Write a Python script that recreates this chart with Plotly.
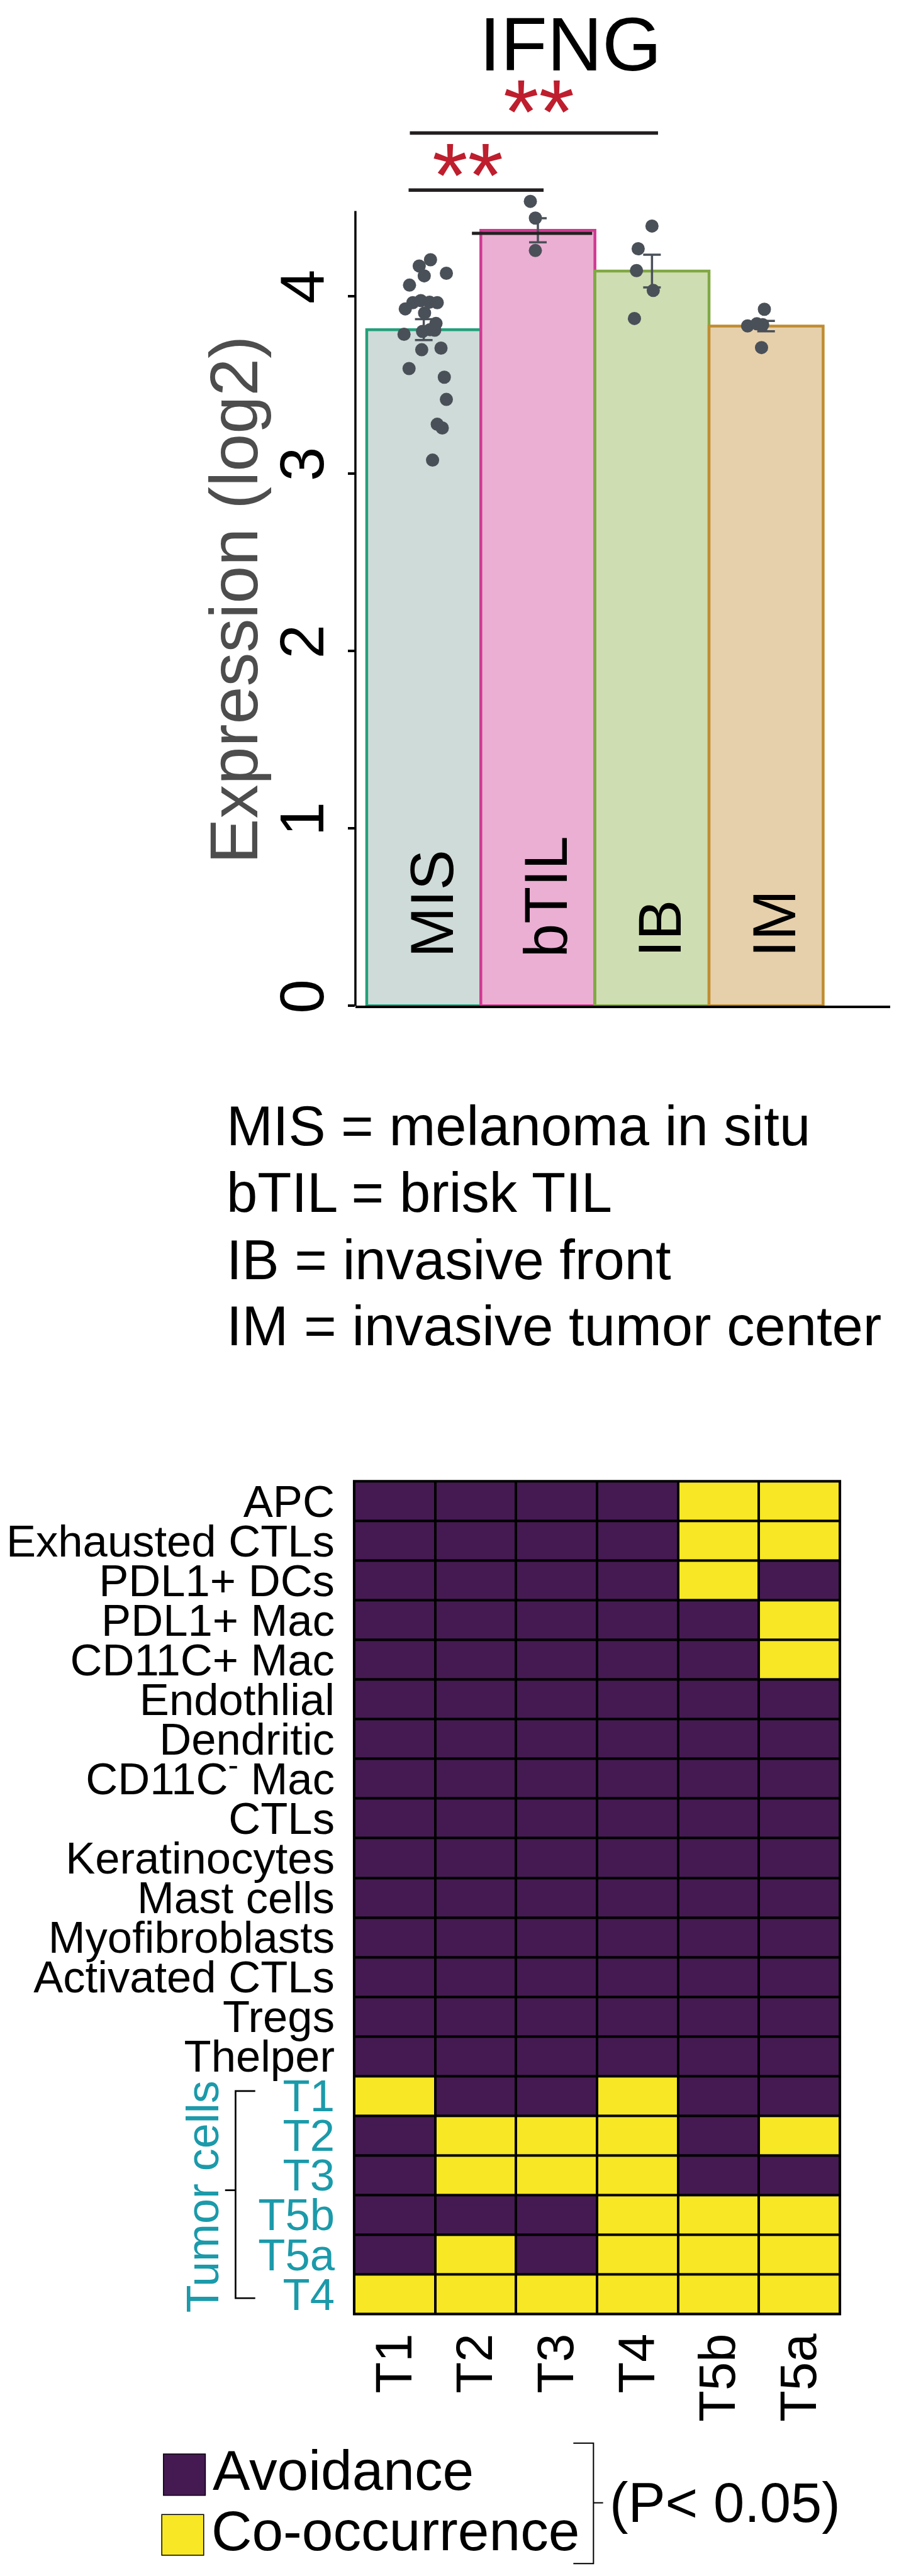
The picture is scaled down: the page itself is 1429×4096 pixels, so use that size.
import plotly.graph_objects as go

# ---------------- data ----------------
groups = ["MIS", "bTIL", "IB", "IM"]
bar_means = [3.81, 4.37, 4.14, 3.83]
bar_err = [0.059, 0.068, 0.092, 0.029]

mis_vals = [4.204, 4.169, 4.113, 4.128, 4.061, 3.962, 3.974, 3.965, 3.962, 3.927, 3.904, 3.845,
            3.784, 3.800, 3.810, 3.807, 3.697, 3.706, 3.591, 3.542, 3.417, 3.277, 3.256, 3.075]
btil_vals = [4.533, 4.439, 4.256]
ib_vals = [4.394, 4.266, 4.143, 4.031, 3.873]
im_vals = [3.925, 3.831, 3.843, 3.838, 3.709]
point_values = [mis_vals, btil_vals, ib_vals, im_vals]

# horizontal jitter of the dots (category units)
mis_jit = [0.059, -0.040, 0.004, 0.198, -0.125, -0.096, -0.026, 0.051, 0.118, -0.162, 0.007, 0.107,
           -0.173, -0.011, 0.055, 0.096, -0.018, 0.151, -0.129, 0.180, 0.198, 0.118, 0.162, 0.077]
btil_jit = [-0.066, -0.022, -0.022]
ib_jit = [0.0, -0.121, -0.136, 0.011, -0.154]
im_jit = [-0.015, -0.162, -0.081, -0.030, -0.040]
point_jitter = [mis_jit, btil_jit, ib_jit, im_jit]

definitions = ["MIS = melanoma in situ", "bTIL = brisk TIL", "IB = invasive front",
               "IM = invasive tumor center"]

hm_cols = ["T1", "T2", "T3", "T4", "T5b", "T5a"]
hm_rows = ["APC", "Exhausted CTLs", "PDL1+ DCs", "PDL1+ Mac", "CD11C+ Mac", "Endothlial",
           "Dendritic", "CD11C<sup>-</sup> Mac", "CTLs", "Keratinocytes", "Mast cells",
           "Myofibroblasts", "Activated CTLs", "Tregs", "Thelper",
           "T1", "T2", "T3", "T5b", "T5a", "T4"]
tumor_rows = ["T1", "T2", "T3", "T5b", "T5a", "T4"]
# 1 = co-occurrence, 0 = avoidance
hm_z = [
    [0, 0, 0, 0, 1, 1],
    [0, 0, 0, 0, 1, 1],
    [0, 0, 0, 0, 1, 0],
    [0, 0, 0, 0, 0, 1],
    [0, 0, 0, 0, 0, 1],
    [0, 0, 0, 0, 0, 0],
    [0, 0, 0, 0, 0, 0],
    [0, 0, 0, 0, 0, 0],
    [0, 0, 0, 0, 0, 0],
    [0, 0, 0, 0, 0, 0],
    [0, 0, 0, 0, 0, 0],
    [0, 0, 0, 0, 0, 0],
    [0, 0, 0, 0, 0, 0],
    [0, 0, 0, 0, 0, 0],
    [0, 0, 0, 0, 0, 0],
    [1, 0, 0, 1, 0, 0],
    [0, 1, 1, 1, 0, 1],
    [0, 1, 1, 1, 0, 0],
    [0, 0, 0, 1, 1, 1],
    [0, 1, 0, 1, 1, 1],
    [1, 1, 1, 1, 1, 1],
]
legend_labels = ["Avoidance", "Co-occurrence"]
pvalue_text = "(P< 0.05)"

# ---------------- styling ----------------
W, H = 1429, 4096
RW, RH = 2145, 6149
S = W / RW
FONT = "Liberation Sans, Arial, sans-serif"
fills = ["#CFDBD8", "#EBAFD3", "#CFDDB2", "#E6D0AB"]
edges = ["#22A07A", "#D03A92", "#80A843", "#C08C30"]
DOT = "#4A5058"
PURPLE = "#451A52"
YELLOW = "#F7E724"
TEAL = "#1B9AAA"
STAR = "#BE1E2D"


def fx(X):
    return X / RW


def fy(Y):
    return 1 - Y / RH


def fs(v):
    return v * S


# top panel geometry (reference pixels)
PX_UNIT_X = 272.25
PX_UNIT_Y = 425.75
X_LEFT, X_RIGHT = 848, 2124
Y_BOTTOM, Y_TOP = 2401, 150
xr = [-0.5 + (X_LEFT - 875) / PX_UNIT_X, 3.5 + (X_RIGHT - 1964) / PX_UNIT_X]
yr = [0, (Y_BOTTOM - Y_TOP) / PX_UNIT_Y]

fig = go.Figure()

fig.add_trace(go.Bar(
    x=list(range(len(groups))), y=bar_means, width=1,
    marker=dict(color=fills, line=dict(color=edges, width=4.5)),
    error_y=dict(type="data", array=bar_err, color=DOT, thickness=3.5, width=14),
    xaxis="x", yaxis="y", hoverinfo="skip"))

for i, (vals, jit) in enumerate(zip(point_values, point_jitter)):
    fig.add_trace(go.Scatter(
        x=[i + j for j in jit], y=vals, mode="markers",
        marker=dict(size=21, color=DOT, line=dict(width=0)),
        cliponaxis=False, xaxis="x", yaxis="y", hoverinfo="skip"))

fig.add_trace(go.Heatmap(
    z=hm_z, x=hm_cols, y=list(range(len(hm_rows))),
    colorscale=[[0, PURPLE], [0.5, PURPLE], [0.5, YELLOW], [1, YELLOW]],
    zmin=0, zmax=1, showscale=False, xgap=4, ygap=4,
    xaxis="x2", yaxis="y2", hoverinfo="skip"))

row_text = [("<span style=\"color:%s\">%s</span>" % (TEAL, r)) if i >= 15 else r
            for i, r in enumerate(hm_rows)]

shapes = []
# heatmap black grid background
shapes.append(dict(type="rect", xref="paper", yref="paper", layer="below",
                   x0=fx(845) - 2 / W, x1=fx(2004) + 2 / W,
                   y0=fy(5540) - 2 / H, y1=fy(3542) + 2 / H,
                   fillcolor="black", line=dict(width=0)))
# y axis line of the bar chart
shapes.append(dict(type="line", xref="paper", yref="y", x0=fx(848), x1=fx(848),
                   y0=-0.01, y1=(Y_BOTTOM - 494) / PX_UNIT_Y,
                   line=dict(color="black", width=3.5)))
# significance brackets
shapes.append(dict(type="line", xref="x", yref="y", x0=-0.122, x1=2.053, y0=4.918, y1=4.918,
                   line=dict(color="#231F20", width=5.5)))
shapes.append(dict(type="line", xref="x", yref="y", x0=-0.133, x1=1.050, y0=4.597, y1=4.597,
                   line=dict(color="#231F20", width=5.5)))
# mean line on bTIL
shapes.append(dict(type="line", xref="x", yref="y", x0=0.422, x1=1.476, y0=4.353, y1=4.353,
                   line=dict(color="#231F20", width=5)))
# tumor cells bracket
shapes.append(dict(type="path", xref="paper", yref="paper",
                   path="M %f %f L %f %f L %f %f L %f %f" % (fx(609), fy(5005), fx(562), fy(5005),
                                                             fx(562), fy(5502), fx(609), fy(5502)),
                   line=dict(color="black", width=2.7)))
shapes.append(dict(type="line", xref="paper", yref="paper", x0=fx(537), x1=fx(562),
                   y0=fy(5243), y1=fy(5243), line=dict(color="black", width=2.7)))
# legend keys
shapes.append(dict(type="rect", xref="paper", yref="paper", x0=fx(390), x1=fx(490),
                   y0=fy(5975), y1=fy(5876), fillcolor=PURPLE, line=dict(color="black", width=1.5)))
shapes.append(dict(type="rect", xref="paper", yref="paper", x0=fx(386), x1=fx(486),
                   y0=fy(6119), y1=fy(6021), fillcolor=YELLOW, line=dict(color="black", width=1.5)))
# legend bracket
shapes.append(dict(type="path", xref="paper", yref="paper",
                   path="M %f %f L %f %f L %f %f L %f %f" % (fx(1368), fy(5850), fx(1416), fy(5850),
                                                             fx(1416), fy(6139), fx(1368), fy(6139)),
                   line=dict(color="black", width=2)))
shapes.append(dict(type="line", xref="paper", yref="paper", x0=fx(1416), x1=fx(1439),
                   y0=fy(5993), y1=fy(5993), line=dict(color="black", width=2)))

ann = []


def A(text, x, y, size, color="black", xref="paper", yref="paper", xanchor="center",
      yanchor="middle", angle=0):
    ann.append(dict(text=text, x=x, y=y, xref=xref, yref=yref, xanchor=xanchor,
                    yanchor=yanchor, showarrow=False, textangle=angle,
                    font=dict(family=FONT, size=size, color=color)))


A("IFNG", fx(1361), fy(94), fs(182))
A("**", 1.01, 5.036, fs(218), STAR, xref="x", yref="y")
A("**", 0.385, 4.679, fs(218), STAR, xref="x", yref="y")
A("Expression (log2)", fx(558), fy(1427), fs(162), "#4D4D4D", angle=-90)
for i, g in enumerate(groups):
    A(g, i + 0.07, 0.265, fs(145), xref="x", yref="y", yanchor="bottom", angle=-90)
for k, (line, base) in enumerate(zip(definitions, [2735, 2896, 3057, 3216])):
    A(line, fx(538), fy(base - 46), fs(133), xanchor="left")
A("Tumor cells", fx(483), fy(5258), fs(108), TEAL, angle=-90)
A(legend_labels[0], fx(505), fy(5915), fs(134), xanchor="left")
A(legend_labels[1], fx(502), fy(6060), fs(134), xanchor="left")
A(pvalue_text, fx(1452), fy(5993), fs(133), xanchor="left")

fig.update_layout(
    width=W, height=H, margin=dict(l=0, r=0, t=0, b=0, pad=0),
    paper_bgcolor="white", plot_bgcolor="rgba(0,0,0,0)", showlegend=False,
    font=dict(family=FONT, color="black"),
    xaxis=dict(domain=[fx(X_LEFT), fx(X_RIGHT)], range=xr, anchor="y",
               showline=True, linecolor="black", linewidth=4, showticklabels=False,
               ticks="", showgrid=False, zeroline=False, fixedrange=True),
    yaxis=dict(domain=[fy(Y_BOTTOM), fy(Y_TOP)], range=yr, anchor="x",
               tickvals=[0, 1, 2, 3, 4], ticktext=["0", "1", "2", "3", "4"],
               ticks="outside", ticklen=11, tickwidth=3.5, tickcolor="black",
               tickangle=-90, tickfont=dict(size=fs(147), color="black", family=FONT),
               showline=False, showgrid=False, zeroline=False),
    xaxis2=dict(domain=[fx(845), fx(2004)], anchor="y2", type="category",
                tickangle=-90, tickfont=dict(size=fs(122), color="black", family=FONT),
                ticks="", showgrid=False, zeroline=False, showline=False,
                ticklabelstandoff=14),
    yaxis2=dict(domain=[fy(5540), fy(3542)], anchor="x2", autorange="reversed",
                tickvals=list(range(len(hm_rows))), ticktext=row_text,
                tickfont=dict(size=fs(106), color="black", family=FONT),
                ticks="", showgrid=False, zeroline=False, showline=False,
                ticklabelstandoff=30),
    shapes=shapes, annotations=ann,
)

fig.write_html("out.html")
